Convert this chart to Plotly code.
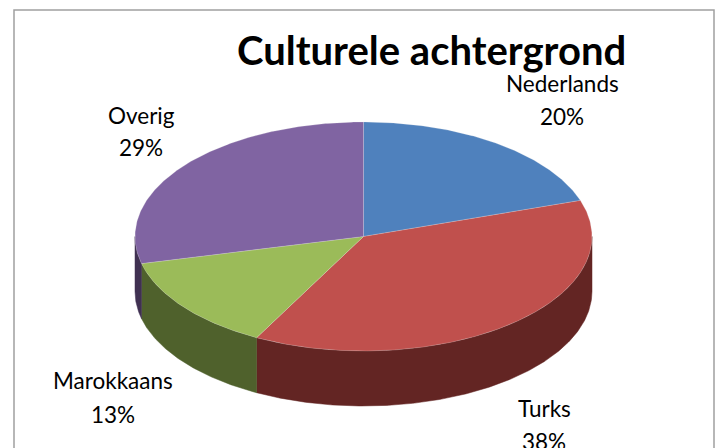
import numpy as np
import plotly.graph_objects as go

categories = ["Nederlands", "Turks", "Marokkaans", "Overig"]
values = [19.9, 37.85, 13.45, 28.8]
top_colors = ["#4F81BD", "#C0504D", "#9BBB59", "#8064A2"]
side_colors = ["#2A4A70", "#632523", "#4F612C", "#403152"]
title_text = "Culturele achtergrond"

CX, CY, RX, RY, DEPTH = 363.5, 236.5, 228.5, 114.5, 55
FONT = "Lato, Carlito, Calibri, sans-serif"


def rim(a0, a1, dy=0.0):
    t = np.radians(np.linspace(a0, a1, max(int(abs(a1 - a0) * 2), 2)))
    return CX + RX * np.sin(t), CY + dy - RY * np.cos(t)


fig = go.Figure()
edges = np.concatenate([[0], np.cumsum(values)]) / sum(values) * 360

# side walls: only the front half of the cylinder (90 to 270 degrees) shows
for name, a0, a1, col in zip(categories, edges[:-1], edges[1:], side_colors):
    lo, hi = max(a0, 90), min(a1, 270)
    if lo >= hi:
        continue
    x1, y1 = rim(lo, hi)
    x2, y2 = rim(hi, lo, DEPTH)
    fig.add_trace(go.Scatter(
        x=np.r_[x1, x2, x1[0]], y=np.r_[y1, y2, y1[0]], mode="lines", fill="toself",
        fillcolor=col, line=dict(color=col, width=0.5), hoverinfo="skip", showlegend=False))

# top faces
for name, val, a0, a1, col in zip(categories, values, edges[:-1], edges[1:], top_colors):
    x, y = rim(a0, a1)
    fig.add_trace(go.Scatter(
        x=np.r_[CX, x, CX], y=np.r_[CY, y, CY], mode="lines", fill="toself",
        fillcolor=col, line=dict(color="rgba(235,235,235,0.35)", width=0.6),
        name=name, text=f"{name} {val:.0f}%", hoverinfo="text", showlegend=False))

# label centres: x, name y, percent y (same order as categories)
labels = [(562, 83, 116), (544, 408, 441), (113, 380, 414), (141, 115, 147)]
for name, val, (lx, ly1, ly2) in zip(categories, values, labels):
    fig.add_annotation(x=lx, y=ly1, text=name, showarrow=False, xanchor="center", yanchor="middle",
                       font=dict(family=FONT, size=22.5, color="#000000"))
    fig.add_annotation(x=lx, y=ly2, text=f"{val:.0f}%", showarrow=False, xanchor="center", yanchor="middle",
                       font=dict(family=FONT, size=22.5, color="#000000"))

fig.add_annotation(x=431, y=50, text=f"<b>{title_text}</b>", showarrow=False, xanchor="center", yanchor="middle",
                   font=dict(family=FONT, size=40, color="#000000"))

fig.add_shape(type="rect", x0=14, y0=10, x1=714, y1=470, line=dict(color="#A0A0A0", width=1.5), layer="below")

fig.update_layout(
    width=720, height=448, margin=dict(l=0, r=0, t=0, b=0),
    paper_bgcolor="white", plot_bgcolor="white",
    xaxis=dict(range=[0, 720], visible=False, fixedrange=True),
    yaxis=dict(range=[448, 0], visible=False, fixedrange=True),
)
fig.write_html("out.html", config={"displayModeBar": False},
               post_script="document.body.style.margin='0';document.documentElement.style.overflow='hidden';")
